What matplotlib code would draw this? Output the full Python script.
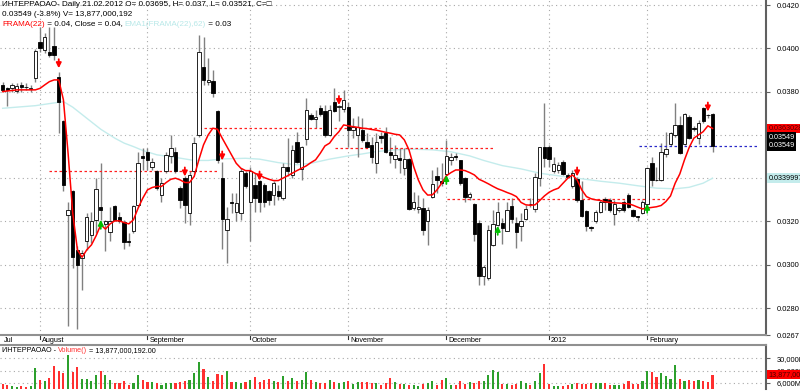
import numpy as np
import matplotlib
matplotlib.use("Agg")
import matplotlib.pyplot as plt
import matplotlib.transforms as mtransforms
from matplotlib.patches import Rectangle

plt.rcParams['font.family'] = ['Liberation Sans', 'DejaVu Sans']

# prices are read in units of 0.0001
PRICE_UNIT = 1e-4

open_pts = [
    383.1, 381.5, 381.5, 380.3, 383.1, 382.3, 381.2, 386.2, 403.1, 399.2,
    398.2, 401.1, 386.6, 366.2, 323.1, 334.2, 306.9, 303.1, 310.8, 313.8,
    320.8, 326.9, 318.9, 315.1, 327.2, 322.3, 319.7, 311.1, 315.8, 327.7,
    350.3, 351.9, 345.1, 343.4, 332.3, 343.5, 350.3, 352.3, 335.7, 340.0,
    323.8, 343.1, 360.0, 391.5, 384.3, 384.9, 371.2, 340.0, 316.2, 329.2,
    324.2, 323.8, 342.3, 329.2, 336.9, 338.5, 336.9, 334.3, 332.3, 334.3,
    330.8, 345.4, 341.5, 356.9, 344.2, 358.0, 369.2, 367.2, 372.3, 371.2,
    360.0, 375.4, 372.8, 371.8, 373.1, 362.3, 360.0, 362.3, 356.5, 355.4,
    346.9, 359.5, 360.8, 352.3, 348.8, 349.2, 344.6, 348.8, 326.2, 325.7,
    326.2, 320.0, 331.5, 340.8, 338.5, 342.0, 348.5, 350.2, 348.2, 340.0,
    331.2, 328.2, 319.5, 294.6, 293.8, 309.2, 318.5, 319.5, 315.8, 327.2,
    319.2, 317.7, 321.1, 328.2, 325.7, 340.0, 354.3, 354.6, 343.1, 343.8,
    347.7, 341.4, 336.2, 339.5, 330.0, 324.9, 317.5, 320.0, 324.6, 330.3,
    330.0, 323.5, 325.1, 329.2, 332.3, 325.1, 322.3, 323.8, 328.2, 346.9,
    339.2, 339.2, 351.2, 355.8, 360.0, 364.6, 355.8, 368.2, 363.1, 358.5,
    372.3, 369.4, 369.5,
]
high_pts = [
    384.6, 382.3, 383.8, 384.0, 384.6, 383.8, 383.0, 399.5, 410.0, 406.9,
    410.0, 410.0, 389.2, 366.9, 329.2, 334.6, 308.5, 306.9, 323.8, 324.2,
    340.0, 346.9, 320.8, 326.9, 327.7, 324.6, 320.8, 314.6, 327.7, 352.3,
    353.8, 353.8, 349.2, 343.8, 340.0, 352.3, 360.0, 354.6, 336.2, 340.8,
    343.1, 359.2, 406.2, 405.4, 395.4, 390.0, 371.5, 347.7, 326.9, 333.1,
    333.1, 344.6, 343.1, 345.4, 342.3, 339.2, 337.7, 334.6, 338.5, 336.9,
    346.9, 358.5, 355.4, 361.5, 354.9, 376.9, 370.0, 371.5, 373.8, 373.8,
    373.8, 381.5, 373.8, 380.8, 375.4, 367.7, 368.5, 367.7, 360.8, 359.2,
    360.8, 361.5, 363.5, 359.2, 355.4, 353.8, 353.8, 349.2, 333.8, 332.3,
    330.8, 326.9, 343.8, 345.4, 346.9, 357.7, 351.5, 351.5, 348.5, 340.5,
    333.8, 328.5, 320.8, 300.0, 318.5, 325.4, 328.8, 321.5, 328.8, 330.8,
    322.3, 323.8, 327.7, 330.8, 342.3, 354.6, 374.9, 355.4, 350.0, 347.7,
    348.5, 342.3, 343.8, 340.5, 338.5, 325.4, 318.0, 325.4, 330.0, 331.5,
    330.8, 330.0, 326.9, 330.0, 333.1, 325.7, 322.5, 330.0, 345.4, 350.0,
    345.4, 356.2, 361.5, 361.5, 374.9, 368.5, 370.0, 369.2, 364.2, 366.9,
    372.8, 369.7, 370.0,
]
low_pts = [
    380.0, 373.4, 380.0, 379.2, 380.0, 380.8, 380.0, 384.6, 398.5, 397.7,
    396.2, 394.6, 360.8, 334.3, 271.5, 298.5, 270.3, 288.5, 306.9, 310.0,
    314.6, 320.8, 306.2, 310.8, 320.0, 319.2, 307.2, 308.5, 314.9, 326.9,
    343.8, 343.8, 343.8, 334.6, 329.2, 342.3, 346.9, 342.3, 326.2, 319.2,
    318.5, 342.3, 359.2, 383.1, 383.1, 377.7, 346.9, 307.2, 300.8, 323.8,
    320.0, 320.8, 335.4, 311.2, 324.6, 324.2, 326.9, 327.7, 327.7, 330.0,
    330.0, 340.8, 340.0, 346.9, 339.2, 355.4, 366.9, 363.1, 368.5, 359.2,
    359.5, 370.8, 366.2, 370.8, 354.6, 358.5, 350.0, 356.9, 353.8, 346.9,
    342.3, 356.2, 351.8, 346.9, 344.6, 342.3, 341.5, 325.4, 325.4, 323.8,
    313.8, 309.2, 331.0, 333.1, 336.2, 341.5, 346.2, 348.5, 337.0, 329.2,
    330.0, 310.8, 290.8, 290.8, 293.1, 308.5, 317.7, 309.7, 315.4, 319.2,
    307.7, 310.8, 320.8, 326.9, 324.6, 336.2, 345.4, 345.4, 342.3, 342.3,
    341.5, 340.0, 335.4, 329.2, 322.3, 315.4, 315.4, 319.5, 323.8, 325.4,
    324.2, 318.5, 324.2, 324.6, 326.2, 322.0, 320.0, 323.5, 327.7, 336.2,
    338.5, 338.5, 350.0, 354.9, 359.2, 351.2, 355.4, 358.0, 362.0, 355.8,
    365.7, 367.7, 352.1,
]
close_pts = [
    380.8, 380.8, 383.1, 382.8, 382.0, 382.0, 381.5, 398.9, 400.0, 405.1,
    396.9, 396.9, 375.4, 336.9, 325.1, 303.8, 300.0, 305.4, 322.0, 320.0,
    334.9, 325.1, 320.3, 320.3, 320.8, 320.0, 310.3, 310.5, 327.2, 346.9,
    349.2, 348.2, 347.4, 335.4, 337.7, 350.8, 353.8, 343.1, 330.0, 327.7,
    341.5, 356.2, 398.2, 385.4, 385.2, 379.2, 348.2, 321.1, 321.1, 328.5,
    328.5, 343.1, 336.2, 343.1, 330.8, 329.2, 329.2, 330.0, 337.7, 331.8,
    345.4, 343.1, 353.1, 347.7, 354.2, 371.5, 367.2, 368.2, 369.7, 360.0,
    371.5, 371.2, 373.4, 376.2, 362.3, 363.8, 363.8, 357.7, 354.6, 350.0,
    356.9, 358.5, 352.3, 350.8, 350.8, 348.5, 348.8, 325.7, 329.2, 326.5,
    316.2, 325.1, 337.4, 339.2, 338.0, 350.3, 350.0, 350.0, 338.0, 331.2,
    332.8, 314.3, 294.6, 299.2, 316.2, 318.9, 324.2, 316.9, 325.4, 321.1,
    315.1, 320.0, 325.7, 328.0, 340.5, 354.3, 349.2, 348.8, 346.5, 346.2,
    342.0, 340.5, 342.3, 330.0, 322.6, 318.0, 317.2, 324.6, 329.2, 329.2,
    325.1, 328.2, 326.2, 325.1, 326.9, 322.6, 322.2, 329.2, 344.6, 339.2,
    339.1, 352.3, 353.4, 360.8, 364.6, 351.5, 369.5, 358.5, 362.9, 365.7,
    366.2, 369.1, 354.9,
]
frama_pts = [
    380.0, 380.3, 380.5, 380.8, 380.8, 380.8, 380.8, 380.8, 381.5, 383.1,
    384.6, 385.4, 385.4, 376.2, 351.5, 323.8, 306.9, 303.5, 306.9, 309.2,
    313.4, 318.5, 316.5, 318.9, 320.3, 320.3, 319.5, 318.9, 320.8, 326.2,
    330.8, 334.6, 335.7, 336.2, 336.2, 338.0, 339.5, 340.0, 339.2, 338.0,
    338.0, 340.8, 348.5, 355.4, 360.0, 363.1, 362.6, 358.5, 354.6, 350.8,
    346.9, 344.6, 343.5, 343.5, 342.3, 341.4, 340.3, 339.5, 338.9, 338.9,
    340.0, 341.1, 342.3, 343.5, 344.6, 345.7, 347.2, 348.5, 351.5, 354.9,
    356.2, 359.2, 361.5, 364.6, 364.2, 363.8, 363.5, 363.1, 362.9, 362.5,
    362.2, 361.7, 361.2, 360.8, 360.3, 360.0, 357.7, 353.1, 345.4, 339.2,
    334.6, 332.2, 332.3, 334.6, 337.7, 341.1, 342.6, 343.8, 343.8, 343.5,
    342.6, 341.5, 339.5, 338.5, 337.4, 336.2, 335.1, 334.3, 333.4, 332.6,
    331.5, 328.8, 327.7, 327.5, 327.7, 329.7, 331.8, 333.5, 334.6, 335.4,
    337.7, 340.0, 341.5, 339.2, 334.6, 331.5, 330.5, 330.0, 329.7, 329.1,
    328.8, 328.6, 328.5, 328.3, 328.2, 327.5, 326.6, 325.8, 326.2, 326.5,
    326.8, 327.4, 329.2, 331.8, 337.7, 342.0, 348.5, 354.2, 358.5, 360.0,
    361.5, 364.2, 363.0,
]
ema_idx = [0, 7, 13, 15, 18, 21, 24, 26, 28, 30, 33, 37, 41, 44, 47, 52,
           55, 59, 63, 66, 70, 74, 77, 80, 84, 88, 92, 96, 100, 103, 107,
           111, 115, 119, 123, 128, 132, 136, 140, 144, 147, 150, 152]
ema_pts = [372.3, 373.5, 375.4, 372.8, 367.7, 362.6, 358.5, 356.2, 354.6,
           352.8, 350.8, 349.6, 348.2, 348.2, 348.9, 349.2, 348.8, 347.2,
           346.2, 346.9, 348.8, 350.3, 351.2, 352.3, 353.1, 353.4, 353.1,
           352.2, 350.3, 348.2, 345.8, 344.3, 342.3, 341.1, 340.0, 338.6,
           337.7, 336.5, 335.4, 335.1, 335.8, 337.7, 340.0]

# volume, millions of shares
volume_m = [
    4875, 4225, 2925, 2275, 2925, 2275, 2925, 20150, 8775, 8125,
    10725, 22100, 17225, 15275, 32825, 16250, 21125, 9750, 9750, 8125,
    13975, 17875, 13650, 8775, 5850, 5850, 7475, 4225, 5850, 13650,
    8775, 7150, 6500, 5525, 4225, 6175, 6175, 5525, 7150, 8125,
    8775, 15275, 26325, 19500, 12025, 7475, 14625, 13975, 17875, 6500,
    6500, 6175, 7150, 8775, 12025, 7150, 9100, 9750, 7475, 6500,
    13000, 8125, 10725, 8125, 8775, 16900, 8775, 6500, 6175, 6175,
    8775, 7150, 6175, 6500, 7475, 4875, 6500, 6500, 7150, 6175,
    5525, 4225, 5850, 10725, 7150, 4875, 4875, 4225, 4225, 3250,
    4875, 5525, 8125, 4225, 8775, 10725, 4225, 4225, 7475, 4875,
    6500, 6175, 7475, 7475, 13975, 18525, 16250, 4875, 4875, 4225,
    4875, 7475, 5525, 4225, 7475, 15600, 24375, 4875, 3250, 3250,
    3250, 4225, 4875, 5525, 4875, 4875, 5525, 6175, 6175, 5525,
    4225, 4225, 4225, 4875, 7475, 4875, 4875, 7475, 17875, 16250,
    12025, 15600, 13000, 9750, 23075, 10075, 7800, 8775, 7800, 8450,
    7800, 6500, 13877,
]

month_idx = [8, 31, 53, 74, 95, 117, 138]
month_names = ['August', 'September', 'October', 'November', 'December', '2012', 'February']
price_ticks = [0.0280, 0.0300, 0.0320, 0.0340, 0.0360, 0.0380, 0.0400, 0.0420]
vol_ticks = [6000, 18000, 30000]

sell_idx = [12, 39, 47, 55, 72, 123, 151]
sell_pts = [390.8, 340.8, 348.2, 338.9, 373.8, 340.8, 370.8]
buy_idx = [21, 95, 106, 138]
buy_pts = [320.8, 341.5, 318.0, 328.2]

level_start = [9.9, 42.0, 71.2, 95.1]
level_end = [45.9, 80.8, 105.0, 142.3]
level_pts = [343.4, 363.4, 353.8, 330.3]

o = np.array(open_pts) * PRICE_UNIT
h = np.array(high_pts) * PRICE_UNIT
l = np.array(low_pts) * PRICE_UNIT
c = np.array(close_pts) * PRICE_UNIT
frama = np.array(frama_pts) * PRICE_UNIT
ema = np.array(ema_pts) * PRICE_UNIT
vol = np.array(volume_m, dtype=float)
n = len(o)
x = np.arange(n)
up = c >= o

W, H = 800, 391
fig = plt.figure(figsize=(W / 100, H / 100), dpi=100)


def box(x0, y0, x1, y1):
    # pixel rectangle, y measured from the top
    return [x0 / W, 1 - y1 / H, (x1 - x0) / W, (y1 - y0) / H]


ax = fig.add_axes(box(0, 0, 766, 335))
axv = fig.add_axes(box(0, 345, 766, 389))

xlim = (-0.58, 163.45)
ylim = (0.026757, 0.042231)
grid_col = '#a8a8a8'
dots = (0, (1, 3))
label_size = 5.2
axis_size = 5.4

# ---- price panel
ax.set_xlim(*xlim)
ax.set_ylim(*ylim)
ax.hlines(price_ticks, xlim[0], xlim[1], colors=grid_col, linestyles=dots, lw=0.8, zorder=0)
ax.vlines(month_idx, ylim[0], ylim[1], colors=grid_col, linestyles=dots, lw=0.8, zorder=0)

ax.plot(ema_idx, ema, color='#c4ecec', lw=1.0, zorder=1)

ax.vlines(x, l, h, color='#808080', lw=1.0, zorder=2)
for i in range(n):
    bottom = min(o[i], c[i])
    height = max(abs(c[i] - o[i]), 0.00002)
    ax.add_patch(Rectangle((i - 0.36, bottom), 0.72, height,
                           facecolor='white' if up[i] else 'black',
                           edgecolor='black', lw=0.6, zorder=3))

ax.hlines(np.array(level_pts) * PRICE_UNIT, level_start, level_end,
          colors='#ff2020', linestyles=(0, (2, 2)), lw=0.9, zorder=2.5)
ax.hlines(c[-1], 136.3, 162.0, colors='#2828c8', linestyles=(0, (2, 2)), lw=0.9, zorder=2.5)

ax.plot(x, frama, color='#ff0000', lw=1.1, zorder=4)

arrow_style = '-|>,head_length=0.5,head_width=0.25'
for i, p in zip(sell_idx, sell_pts):
    ax.annotate('', xy=(i, p * PRICE_UNIT), xytext=(0, 6.5), textcoords='offset points',
                arrowprops=dict(arrowstyle=arrow_style, color='#ff0000', lw=1.3,
                                mutation_scale=6, shrinkA=0, shrinkB=0), zorder=5)
for i, p in zip(buy_idx, buy_pts):
    ax.annotate('', xy=(i, p * PRICE_UNIT), xytext=(0, -6.5), textcoords='offset points',
                arrowprops=dict(arrowstyle=arrow_style, color='#00c000', lw=1.3,
                                mutation_scale=6, shrinkA=0, shrinkB=0), zorder=5)

for side in ['left', 'top']:
    ax.spines[side].set_visible(False)
ax.spines['right'].set_color('#606060')
ax.spines['right'].set_linewidth(1.5)
ax.spines['bottom'].set_color('#909090')
ax.spines['bottom'].set_linewidth(1.5)
ax.set_xticks([])
ax.yaxis.tick_right()
ax.set_yticks(price_ticks + [ylim[0]])
# 0.0340 and 0.0360 sit under the value tags, as in the original
shown = ['' if t in (0.0340, 0.0360) else '%.4f' % t for t in price_ticks]
ax.set_yticklabels(shown + ['0.0267'])
ax.tick_params(axis='y', length=3, width=0.8, color='#606060', labelsize=axis_size, pad=4.5)

side_tr = mtransforms.blended_transform_factory(ax.transAxes, ax.transData)
tags = [(frama[-1], '0.0363028', '#ff0000', '#500000'),
        (0.03590, '0.03549', 'black', 'white'),
        (c[-1], '0.03549', 'black', 'white'),
        (ema[-1], '0.0339997', '#c4ecec', 'black')]
for p, s, bg, fg in tags:
    ax.text(1.003, p, s, transform=side_tr, fontsize=axis_size - 0.2, color=fg, va='center',
            ha='left', clip_on=False,
            bbox=dict(facecolor=bg, edgecolor='none', pad=0.9), zorder=6)

# month labels in the strip under the price panel
date_tr = mtransforms.blended_transform_factory(ax.transData, ax.transAxes)
ax.text(0.3, -5.5 / 335, 'Jul', transform=date_tr, fontsize=label_size, va='center', ha='left')
for m, name in zip(month_idx, month_names):
    ax.plot([m, m], [-1 / 335, -4 / 335], transform=date_tr, color='#303030', lw=0.8, clip_on=False)
    ax.text(m + 0.4, -5.5 / 335, name, transform=date_tr, fontsize=label_size, va='center',
            ha='left')

# ---- volume panel
axv.set_xlim(*xlim)
axv.set_ylim(0, 42900)
axv.hlines(vol_ticks, xlim[0], xlim[1], colors=grid_col, linestyles=dots, lw=0.8, zorder=0)
axv.bar(x, vol, width=0.45, color=np.where(up, '#2ca02c', '#ff3030'), zorder=2)
for side in ['left', 'bottom']:
    axv.spines[side].set_visible(False)
axv.spines['top'].set_color('#909090')
axv.spines['top'].set_linewidth(1.5)
axv.spines['right'].set_color('#606060')
axv.spines['right'].set_linewidth(1.5)
axv.set_xticks([])
axv.yaxis.tick_right()
axv.set_yticks(vol_ticks)
axv.set_yticklabels(['{:,}M'.format(v) for v in vol_ticks])
axv.tick_params(axis='y', length=3, width=0.8, color='#606060', labelsize=axis_size, pad=4.5)
vside_tr = mtransforms.blended_transform_factory(axv.transAxes, axv.transData)
axv.text(1.003, vol[-1], '13,877,000', transform=vside_tr, fontsize=axis_size - 0.2,
         color='#500000', va='center', ha='left', clip_on=False,
         bbox=dict(facecolor='#ff0000', edgecolor='none', pad=0.9), zorder=6)

# ---- header lines (several colours on one line)
renderer = fig.canvas.get_renderer()


def colored_line(x_px, y_px, parts, size=5.9):
    xp = x_px
    for s, col in parts:
        t = fig.text(xp / W, 1 - y_px / H, s, color=col, fontsize=size, va='center', ha='left')
        xp += t.get_window_extent(renderer=renderer).width


colored_line(2, 5, [('ИНТЕРРАОАО- Daily 21.02.2012 O= 0.03695, H= 0.037, L= 0.03521, C=\u25a1', 'black')])
colored_line(2, 14.5, [('0.03549 (-3.8%) V= 13,877,000,192', 'black')])
colored_line(2, 24, [('FRAMA(22)', '#ff0000'), (' = 0.04, Close = 0.04, ', 'black'),
                     ('EMA1(FRAMA(22),62)', '#b8e8e8'), (' = 0.03', 'black')])
colored_line(2, 351, [('ИНТЕРРАОАО - ', 'black'), ('Volume()', '#ff3030'),
                      (' = 13,877,000,192.00', 'black')], size=label_size)

fig.savefig('out.png', dpi=100)
